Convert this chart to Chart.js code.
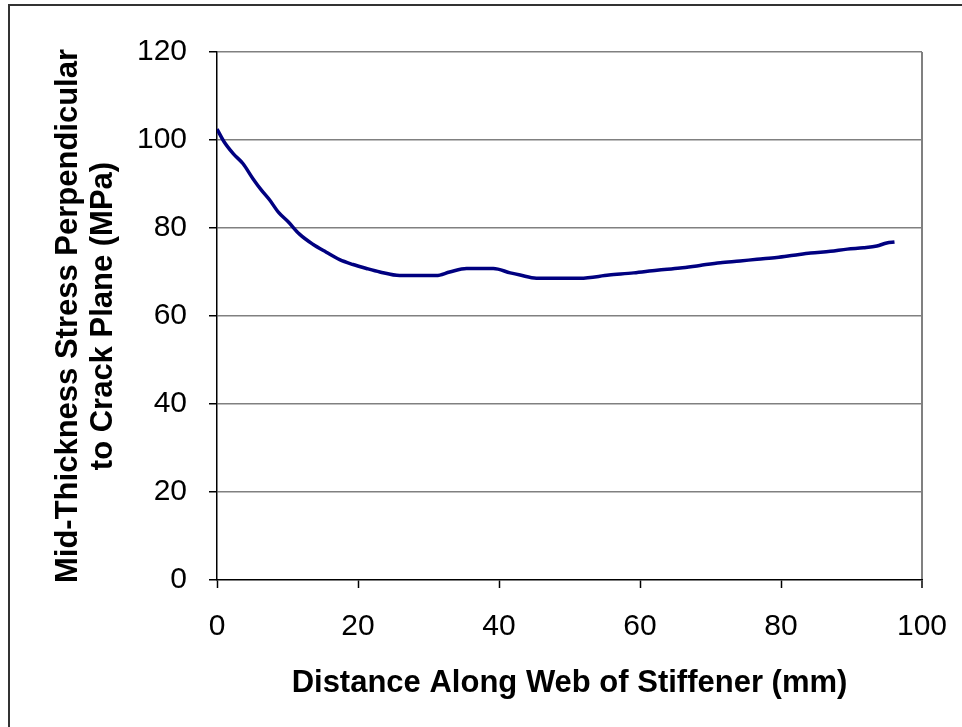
<!DOCTYPE html>
<html>
<head>
<meta charset="utf-8">
<script src="https://cdn.jsdelivr.net/npm/chart.js@4.4.1/dist/chart.umd.min.js"></script>
<style>
  html, body { margin: 0; padding: 0; background: #ffffff; }
  #wrap { width: 962px; height: 727px; }
</style>
</head>
<body>
<div id="wrap"><canvas id="chart" width="962" height="727"></canvas></div>
<script>
// Mid-thickness stress along the stiffener web
const distances = [0, 1.0, 2.3, 3.7, 5.1, 6.3, 7.5, 8.7, 10.1, 11.7, 13.6, 15.5, 17.4, 19.3, 21.2, 23.1,
  25.9, 31.1, 33.0, 35.4, 39.2, 41.6, 43.0, 45.3, 51.5, 55.6, 59.1, 62.4, 65.7, 68.5, 71.4,
  74.2, 76.6, 79.4, 81.8, 84.2, 87.0, 89.4, 91.7, 93.6, 95.0, 96.1];
const stresses = [102.5, 99.6, 96.9, 94.6, 91.2, 88.6, 86.3, 83.6, 81.4, 78.6, 76.3, 74.5, 72.8, 71.7, 70.8, 70.0,
  69.2, 69.2, 70.0, 70.8, 70.8, 69.8, 69.3, 68.6, 68.6, 69.3, 69.8, 70.4, 70.9, 71.5, 72.1,
  72.5, 72.9, 73.3, 73.8, 74.3, 74.7, 75.2, 75.5, 75.9, 76.6, 76.8];
const xTicks = [0, 20, 40, 60, 80, 100];
const yTicks = [0, 20, 40, 60, 80, 100, 120];
const xTitle = 'Distance Along Web of Stiffener (mm)';
const yTitle = ['Mid-Thickness Stress Perpendicular', 'to Crack Plane (MPa)'];

const FONT = '"Liberation Sans", Arial, sans-serif';

const points = distances.map((d, i) => ({ x: d, y: stresses[i] }));

// Outer frame around the whole figure
const framePlugin = {
  id: 'frame',
  afterDraw(chart) {
    const ctx = chart.ctx;
    ctx.save();
    ctx.strokeStyle = '#333333';
    ctx.lineWidth = 2;
    ctx.strokeRect(9, 5, 1000, 1000);
    ctx.restore();
  }
};

new Chart(document.getElementById('chart'), {
  type: 'line',
  data: {
    datasets: [{
      data: points,
      borderColor: '#000080',
      borderWidth: 3.5,
      pointRadius: 0,
      cubicInterpolationMode: 'monotone',
      fill: false
    }]
  },
  options: {
    responsive: false,
    animation: false,
    events: [],
    layout: { padding: { left: 0, top: 52, right: 40, bottom: 0 } },
    plugins: { legend: { display: false }, tooltip: { enabled: false } },
    scales: {
      x: {
        type: 'linear',
        min: 0,
        max: 100,
        afterFit(scale) {
          scale.height = 147;
          scale.paddingLeft = 0;
          scale.paddingRight = 0;
        },
        afterBuildTicks(scale) { scale.ticks = xTicks.map(v => ({ value: v })); },
        border: { display: true, color: '#000000', width: 1.5 },
        grid: {
          drawOnChartArea: true,
          drawTicks: true,
          tickLength: 8,
          tickColor: '#000000',
          tickWidth: 1.5,
          color: ctx => (ctx.tick && ctx.tick.value === 100) ? '#808080' : 'rgba(0,0,0,0)',
          lineWidth: ctx => (ctx.tick && ctx.tick.value === 100) ? 2 : 1
        },
        ticks: {
          color: '#000000',
          padding: 21,
          maxRotation: 0,
          font: { family: FONT, size: 30 }
        },
        title: {
          display: true,
          text: xTitle,
          color: '#000000',
          padding: { top: 0, bottom: 25 },
          font: { family: FONT, size: 31, weight: 'bold', lineHeight: 1.2 }
        }
      },
      y: {
        type: 'linear',
        min: 0,
        max: 120,
        afterFit(scale) {
          scale.width = 217;
          scale.paddingTop = 0;
          scale.paddingBottom = 0;
        },
        afterBuildTicks(scale) { scale.ticks = yTicks.map(v => ({ value: v })); },
        border: { display: true, color: '#000000', width: 1.5 },
        grid: {
          drawTicks: true,
          tickLength: 8,
          tickColor: '#000000',
          tickWidth: 1.5,
          color: ctx => (ctx.tick && ctx.tick.value === 0) ? 'rgba(0,0,0,0)' : '#808080',
          lineWidth: 1.5
        },
        ticks: {
          color: '#000000',
          padding: 22,
          font: { family: FONT, size: 30 }
        },
        title: {
          display: true,
          text: yTitle,
          color: '#000000',
          padding: { top: 51, bottom: 0 },
          font: { family: FONT, size: 31, weight: 'bold', lineHeight: 1.13 }
        }
      }
    }
  },
  plugins: [framePlugin]
});
</script>
</body>
</html>
